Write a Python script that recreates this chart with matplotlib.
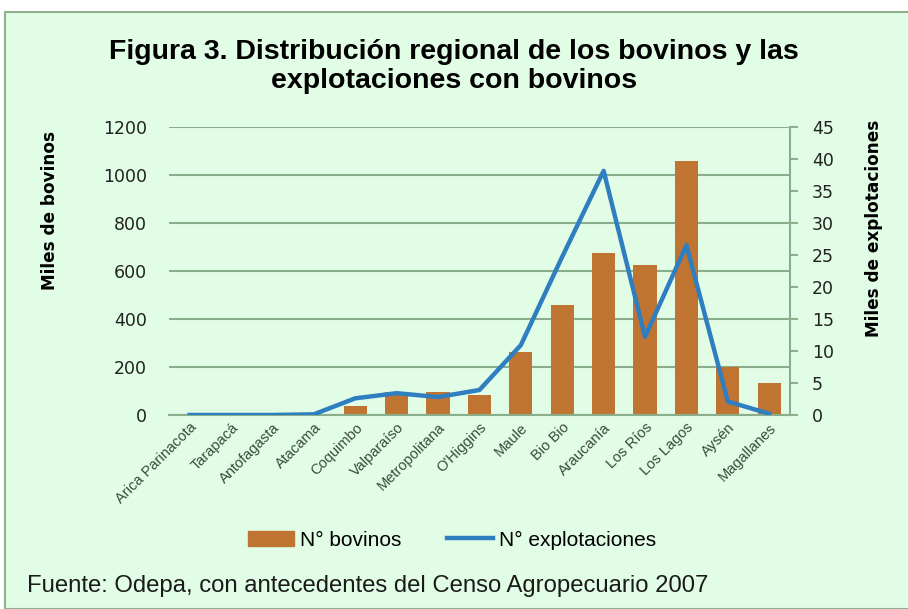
# Distribución regional de los bovinos y las explotaciones con bovinos

import matplotlib.pyplot as plt
import matplotlib.patches as mpatches
from matplotlib.lines import Line2D
import numpy as np

regiones = ["Arica Parinacota", "Tarapacá", "Antofagasta", "Atacama", "Coquimbo",
            "Valparaíso", "Metropolitana", "O'Higgins", "Maule", "Bio Bio",
            "Araucanía", "Los Ríos", "Los Lagos", "Aysén", "Magallanes"]
bovinos = [0, 0, 0, 0, 39, 97, 97, 83, 264, 458, 675, 624, 1058, 198, 134]          # miles
explotaciones = [0, 0, 0, 0.1, 2.6, 3.4, 2.8, 3.9, 10.9, 24.7, 38.1, 12.2, 26.5, 2.1, 0.2]  # miles

bg = "#E1FDE6"
grid_col = "#8AAE8C"
bar_col = "#C07432"
line_col = "#2F7EC0"

fig = plt.figure(figsize=(9.08, 6.09), dpi=100)
fig.patch.set_facecolor("white")
fig.patches.append(mpatches.Rectangle((5 / 908, 0), 1, 1 - 12 / 609, transform=fig.transFigure,
                                      facecolor=bg, edgecolor="#8DB08F", linewidth=1.5, zorder=-10))

ax = fig.add_axes([0.186, 0.3186, 0.684, 0.4734])
ax.set_facecolor("none")
x = np.arange(len(regiones))
ax.bar(x, bovinos, width=0.56, color=bar_col, zorder=2)
ax.set_ylim(0, 1200)
ax.set_xlim(-0.5, len(regiones) - 0.5)
ax.set_yticks(range(0, 1201, 200))
ax.yaxis.grid(True, color=grid_col, linewidth=1.5, zorder=0)
ax.set_axisbelow(True)
for s in ["top", "left", "right"]:
    ax.spines[s].set_visible(False)
ax.spines["bottom"].set_color(grid_col)
ax.spines["bottom"].set_linewidth(1.5)
ax.tick_params(axis="y", length=0, pad=16, labelsize=12.5, labelcolor="#222222")
ax.tick_params(axis="x", length=0, pad=4)
ax.set_xticks(x)
ax.set_xticklabels(regiones, rotation=45, ha="right", rotation_mode="anchor",
                   fontsize=10.5, color="#3A4A3A", family="Liberation Sans")

ax2 = ax.twinx()
ax2.plot(x, explotaciones, color=line_col, linewidth=3.2, zorder=3)
ax2.set_ylim(0, 45)
ax2.set_yticks(range(0, 46, 5))
for s in ["top", "left", "bottom"]:
    ax2.spines[s].set_visible(False)
ax2.spines["right"].set_color(grid_col)
ax2.spines["right"].set_linewidth(1.5)
ax2.tick_params(axis="y", length=6, width=1.5, color=grid_col, pad=10,
                labelsize=12.5, labelcolor="#222222")

fig.text(0.5, 0.891, "Figura 3. Distribución regional de los bovinos y las\nexplotaciones con bovinos",
         ha="center", va="center", fontsize=20.5, fontweight="bold", linespacing=1.15,
         family="Liberation Sans")
fig.text(0.055, 0.655, "Miles de bovinos", rotation=90, ha="center", va="center",
         fontsize=12.2, fontweight="bold")
fig.text(0.963, 0.625, "Miles de explotaciones", rotation=90, ha="center", va="center",
         fontsize=12.2, fontweight="bold")

handles = [mpatches.Patch(color=bar_col, label="N° bovinos"),
           Line2D([], [], color=line_col, linewidth=3.2, label="N° explotaciones")]
fig.legend(handles=handles, loc="center", bbox_to_anchor=(0.498, 0.113), ncol=2,
           frameon=False, handlelength=2.2, handletextpad=0.3, columnspacing=2.2,
           prop={"family": "Liberation Sans", "size": 15})

fig.text(0.03, 0.038, "Fuente: Odepa, con antecedentes del Censo Agropecuario 2007",
         ha="left", va="center", fontsize=17.2, family="Liberation Sans", color="#1a1a1a")

plt.savefig("out.png", dpi=100, facecolor=fig.get_facecolor())
